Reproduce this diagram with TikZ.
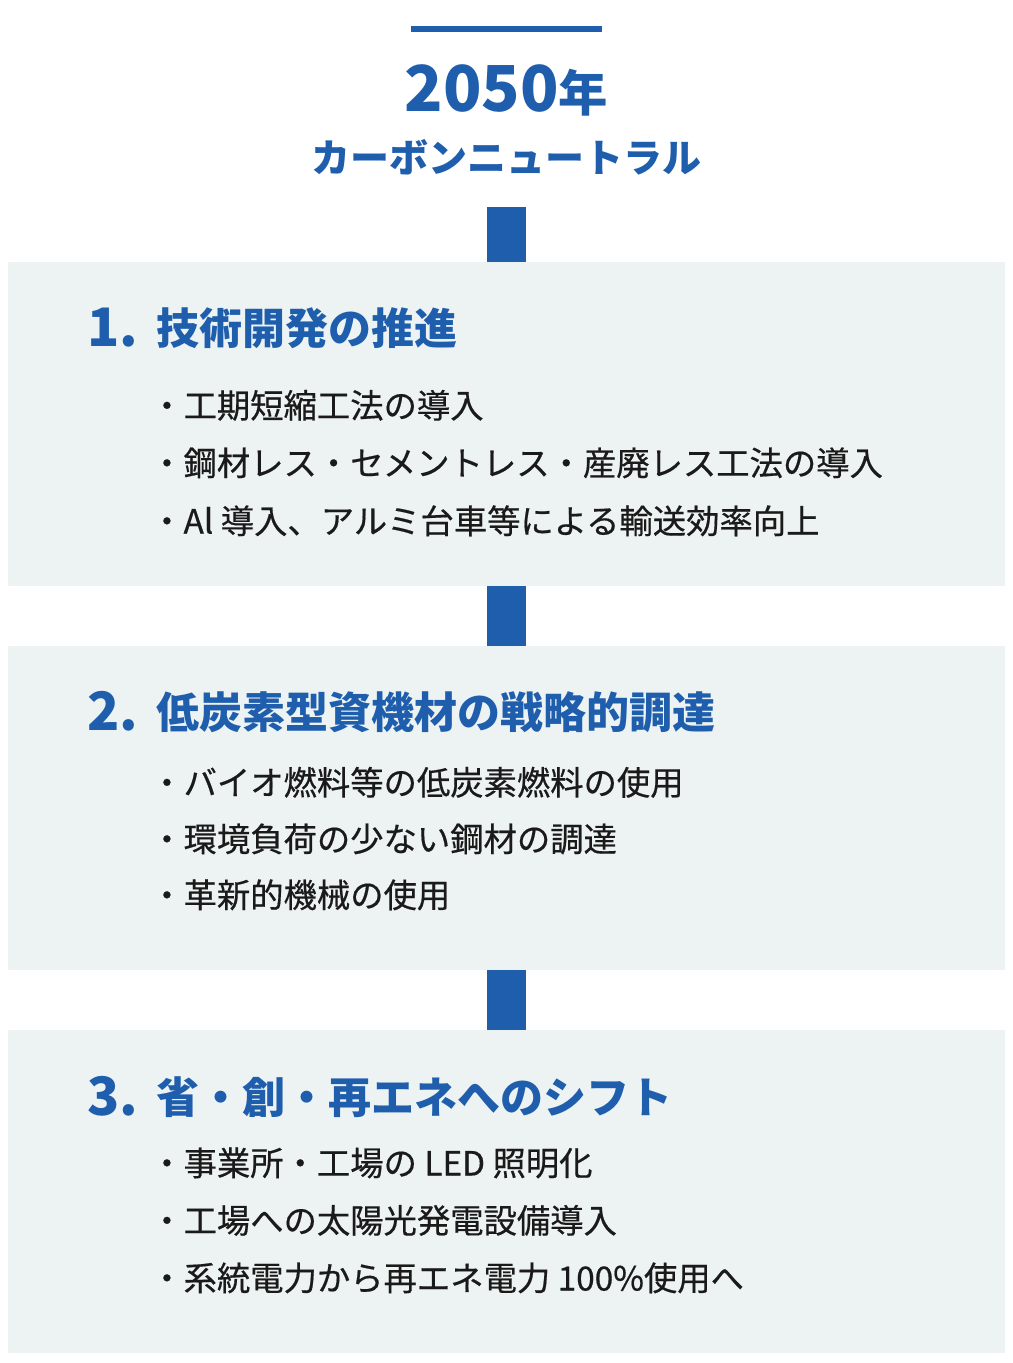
\documentclass[tikz,border=0pt]{standalone}
\usepackage{fontspec}
\setmainfont{Noto Sans CJK JP}
\newfontfamily\bodyfont[FakeBold=0.5]{Noto Sans CJK JP}
\definecolor{cnblue}{HTML}{1F5EAD}
\definecolor{panelbg}{HTML}{ECF3F2}
\definecolor{bodyink}{HTML}{1A1A1A}
\begin{document}
\begin{tikzpicture}[x=0.75pt,y=-0.75pt,
  panel/.style={fill=panelbg, draw=none, inner sep=0, minimum width=747.75pt, minimum height=243pt},
  conn/.style={draw=cnblue, line width=29.25pt},
  num/.style={anchor=base west, inner sep=0, text=cnblue, font=\bfseries\fontsize{39.75pt}{44pt}\selectfont},
  ttl/.style={anchor=base west, inner sep=0, text=cnblue, font=\bfseries\fontsize{32.25pt}{38pt}\selectfont},
  item/.style={anchor=base west, inner sep=0, text=bodyink, font=\bodyfont\fontsize{25pt}{30pt}\selectfont},
]
\useasboundingbox (0,0) rectangle (1013,1363);
\fill[white] (0,0) rectangle (1013,1363);

\node[fill=cnblue, inner sep=0, minimum width=143.25pt, minimum height=4.5pt] (topbar) at (506.5,29.5) {};
\node[anchor=base, inner sep=0, text=cnblue, font=\bfseries\fontsize{47.5pt}{55pt}\selectfont] (year) at (506.5,111.5) {2050{\fontsize{37pt}{40pt}\selectfont 年}};
\node[anchor=base, inner sep=0, text=cnblue, font=\bfseries\fontsize{29.25pt}{34pt}\selectfont] (cn) at (506.5,172.5) {カーボンニュートラル};
\coordinate (c0) at (506.5,207);

\node[panel] (p1) at (506.5,424) {};
\node[panel] (p2) at (506.5,808) {};
\node[panel, minimum height=242.25pt] (p3) at (506.5,1191.5) {};

\draw[conn] (c0) -- (p1.north);
\draw[conn] (p1.south) -- (p2.north);
\draw[conn] (p2.south) -- (p3.north);

\node[num] (n1) at (87,346) {1.};
\node[ttl] (t1) at (156,344) {技術開発の推進};
\node[item] (i11) at (150,418) {・工期短縮工法の導入};
\node[item] (i12) at (150,475.5) {・鋼材レス・セメントレス・産廃レス工法の導入};
\node[item] (i13) at (150,533.5) {・Al 導入、アルミ台車等による輸送効率向上};

\node[num] (n2) at (87,730.5) {2.};
\node[ttl] (t2) at (156,728) {低炭素型資機材の戦略的調達};
\node[item] (i21) at (150,795) {・バイオ燃料等の低炭素燃料の使用};
\node[item] (i22) at (150,851.5) {・環境負荷の少ない鋼材の調達};
\node[item] (i23) at (150,907.5) {・革新的機械の使用};

\node[num] (n3) at (87,1115) {3.};
\node[ttl] (t3) at (156,1113) {省・創・再エネへのシフト};
\node[item] (i31) at (150,1175.5) {・事業所・工場の LED 照明化};
\node[item] (i32) at (150,1233) {・工場への太陽光発電設備導入};
\node[item] (i33) at (150,1290.5) {・系統電力から再エネ電力 100\%使用へ};
\end{tikzpicture}
\end{document}
